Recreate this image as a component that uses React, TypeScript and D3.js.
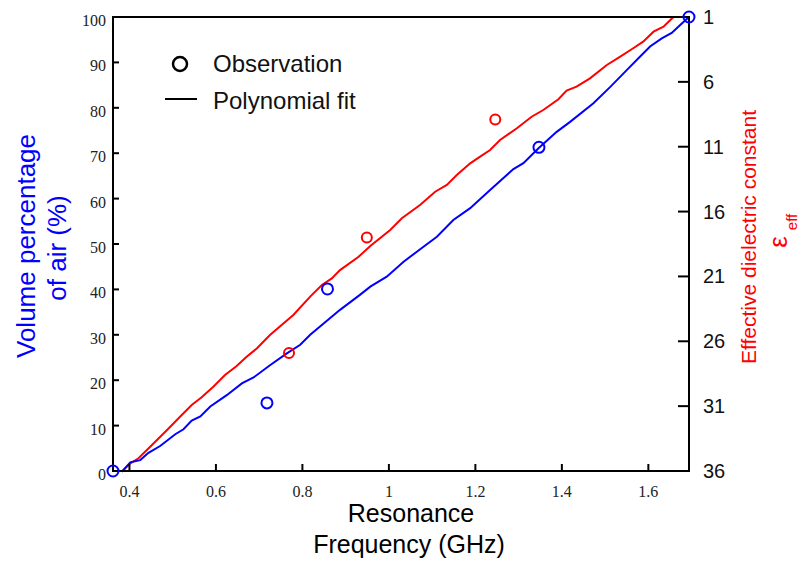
import React, { useEffect, useRef } from "react";
import * as d3 from "d3";

// polynomial fit, volume percentage of air (left axis)
const volFitFreq = [0.382, 0.402, 0.425, 0.444, 0.471, 0.506, 0.525, 0.544, 0.564, 0.587, 0.625, 0.66, 0.687, 0.725, 0.764, 0.795, 0.818, 0.887, 0.933, 0.957, 0.995, 1.034, 1.08, 1.111, 1.149, 1.188, 1.234, 1.288, 1.311, 1.346, 1.388, 1.419, 1.473, 1.512, 1.55, 1.581, 1.604, 1.631, 1.654, 1.673, 1.694];
const volFit = [-0.2, 1.9, 2.4, 4.0, 5.5, 8.1, 9.2, 11.1, 12.0, 14.2, 16.7, 19.3, 20.6, 23.3, 25.9, 27.8, 30.0, 35.5, 38.8, 40.6, 42.8, 46.1, 49.4, 51.6, 55.3, 57.9, 61.9, 66.5, 67.8, 71.1, 74.7, 76.9, 81.0, 84.6, 88.3, 91.3, 93.5, 95.3, 96.5, 98.2, 100];

// polynomial fit, effective dielectric constant (right axis)
const epsFitFreq = [0.384, 0.402, 0.421, 0.448, 0.487, 0.517, 0.544, 0.567, 0.594, 0.621, 0.648, 0.671, 0.695, 0.725, 0.756, 0.779, 0.818, 0.845, 0.868, 0.887, 0.93, 0.957, 1.003, 1.03, 1.072, 1.107, 1.134, 1.157, 1.188, 1.211, 1.234, 1.257, 1.296, 1.33, 1.357, 1.392, 1.411, 1.434, 1.465, 1.504, 1.535, 1.565, 1.588, 1.612, 1.635, 1.658];
const epsFit = [36, 35.41, 35.02, 34.13, 32.84, 31.82, 30.91, 30.32, 29.5, 28.6, 27.91, 27.19, 26.54, 25.52, 24.62, 23.97, 22.56, 21.66, 21.15, 20.51, 19.48, 18.65, 17.42, 16.52, 15.49, 14.47, 13.95, 13.18, 12.28, 11.77, 11.25, 10.48, 9.58, 8.69, 8.17, 7.34, 6.68, 6.37, 5.73, 4.7, 4.06, 3.41, 2.9, 2.13, 1.75, 1.0];

// observations
const volObsFreq = [0.362, 0.718, 0.858, 1.347, 1.694];
const volObs = [0, 15.0, 40.1, 71.3, 100];
const epsObsFreq = [0.769, 0.949, 1.246];
const epsObs = [26.9, 18.0, 8.9];

const freqTicks = [0.4, 0.6, 0.8, 1, 1.2, 1.4, 1.6];
const volTicks = [0, 10, 20, 30, 40, 50, 60, 70, 80, 90, 100];
const epsTicks = [1, 6, 11, 16, 21, 26, 31, 36];

const App = () => {
  const ref = useRef<SVGSVGElement>(null);

  useEffect(() => {
    document.body.style.margin = "0";
    const svg = d3.select(ref.current);
    svg.selectAll("*").remove();

    const left = 113, right = 689, top = 17, bottom = 471;
    const serif = "'Liberation Serif', 'Times New Roman', serif";
    const sans = "'Liberation Sans', Arial, sans-serif";

    const x = d3.scaleLinear().domain([0.362, 1.694]).range([left, right]);
    const yVol = d3.scaleLinear().domain([0, 100]).range([bottom, top]);
    const yEps = d3.scaleLinear().domain([1, 36]).range([top, bottom]);

    const volLine = d3
      .line<number>()
      .x((d, i) => x(volFitFreq[i]))
      .y((d) => yVol(d));
    const epsLine = d3
      .line<number>()
      .x((d, i) => x(epsFitFreq[i]))
      .y((d) => yEps(d));

    svg
      .append("path")
      .attr("d", epsLine(epsFit))
      .attr("fill", "none")
      .attr("stroke", "#ff0000")
      .attr("stroke-width", 2);
    svg
      .append("path")
      .attr("d", volLine(volFit))
      .attr("fill", "none")
      .attr("stroke", "#0000ff")
      .attr("stroke-width", 2);

    // frame
    svg
      .append("rect")
      .attr("x", left)
      .attr("y", top)
      .attr("width", right - left)
      .attr("height", bottom - top)
      .attr("fill", "none")
      .attr("stroke", "#000")
      .attr("stroke-width", 2);

    // bottom ticks (inward)
    freqTicks.forEach((t) => {
      svg
        .append("line")
        .attr("x1", x(t))
        .attr("x2", x(t))
        .attr("y1", bottom)
        .attr("y2", bottom - 7)
        .attr("stroke", "#000")
        .attr("stroke-width", 2);
      svg
        .append("text")
        .attr("x", x(t))
        .attr("y", 497)
        .attr("text-anchor", "middle")
        .style("font-family", serif)
        .style("font-size", "16px")
        .attr("fill", "#222")
        .text(d3.format("")(t));
    });

    volTicks.forEach((t) => {
      if (t > 0 && t < 100) {
        svg
          .append("line")
          .attr("x1", left)
          .attr("x2", left + 6)
          .attr("y1", yVol(t))
          .attr("y2", yVol(t))
          .attr("stroke", "#000")
          .attr("stroke-width", 2);
      }
      svg
        .append("text")
        .attr("x", 106)
        .attr("y", yVol(t) + 9)
        .attr("text-anchor", "end")
        .style("font-family", serif)
        .style("font-size", "16px")
        .attr("fill", "#222")
        .text(t);
    });

    epsTicks.forEach((t) => {
      if (t > 1 && t < 36) {
        svg
          .append("line")
          .attr("x1", right)
          .attr("x2", right - 11)
          .attr("y1", yEps(t))
          .attr("y2", yEps(t))
          .attr("stroke", "#000")
          .attr("stroke-width", 2);
      }
      svg
        .append("text")
        .attr("x", 703)
        .attr("y", yEps(t))
        .attr("dy", "0.35em")
        .style("font-family", sans)
        .style("font-size", "20px")
        .attr("fill", "#111")
        .text(t);
    });

    // observation markers
    svg
      .selectAll(".epsobs")
      .data(epsObs)
      .enter()
      .append("circle")
      .attr("cx", (d, i) => x(epsObsFreq[i]))
      .attr("cy", (d) => yEps(d))
      .attr("r", 5)
      .attr("fill", "none")
      .attr("stroke", "#ff0000")
      .attr("stroke-width", 2);
    svg
      .selectAll(".volobs")
      .data(volObs)
      .enter()
      .append("circle")
      .attr("cx", (d, i) => x(volObsFreq[i]))
      .attr("cy", (d) => yVol(d))
      .attr("r", 5.5)
      .attr("fill", "none")
      .attr("stroke", "#0000ff")
      .attr("stroke-width", 2);

    // legend
    svg
      .append("circle")
      .attr("cx", 180)
      .attr("cy", 64)
      .attr("r", 7)
      .attr("fill", "none")
      .attr("stroke", "#000")
      .attr("stroke-width", 2.5);
    svg
      .append("line")
      .attr("x1", 165)
      .attr("x2", 197)
      .attr("y1", 99)
      .attr("y2", 99)
      .attr("stroke", "#000")
      .attr("stroke-width", 2);
    [
      ["Observation", 64],
      ["Polynomial fit", 101],
    ].forEach(([s, yy]) => {
      svg
        .append("text")
        .attr("x", 213)
        .attr("y", yy as number)
        .attr("dy", "0.35em")
        .style("font-family", sans)
        .style("font-size", "24px")
        .attr("fill", "#111")
        .text(s as string);
    });

    // axis titles
    const title = (s: string, tx: number, ty: number, rot: number, col: string, size: number) =>
      svg
        .append("text")
        .attr("transform", "translate(" + tx + "," + ty + ") rotate(" + rot + ")")
        .attr("text-anchor", "middle")
        .style("font-family", sans)
        .style("font-size", size + "px")
        .attr("fill", col)
        .text(s);

    title("Volume percentage", 35, 246, -90, "#0000ff", 26);
    title("of air (%)", 66, 248, -90, "#0000ff", 26);
    title("Resonance", 411, 522, 0, "#000", 25);
    title("Frequency (GHz)", 409, 553, 0, "#000", 25);
    title("Effective dielectric constant", 756, 237, -90, "#ff0000", 21);
    title("\u03b5", 787, 242, -90, "#ff0000", 26);
    title("eff", 797, 222, -90, "#ff0000", 15);
  }, []);

  return <svg ref={ref} width={799} height={561} style={{ display: "block" }} />;
};

export default App;
